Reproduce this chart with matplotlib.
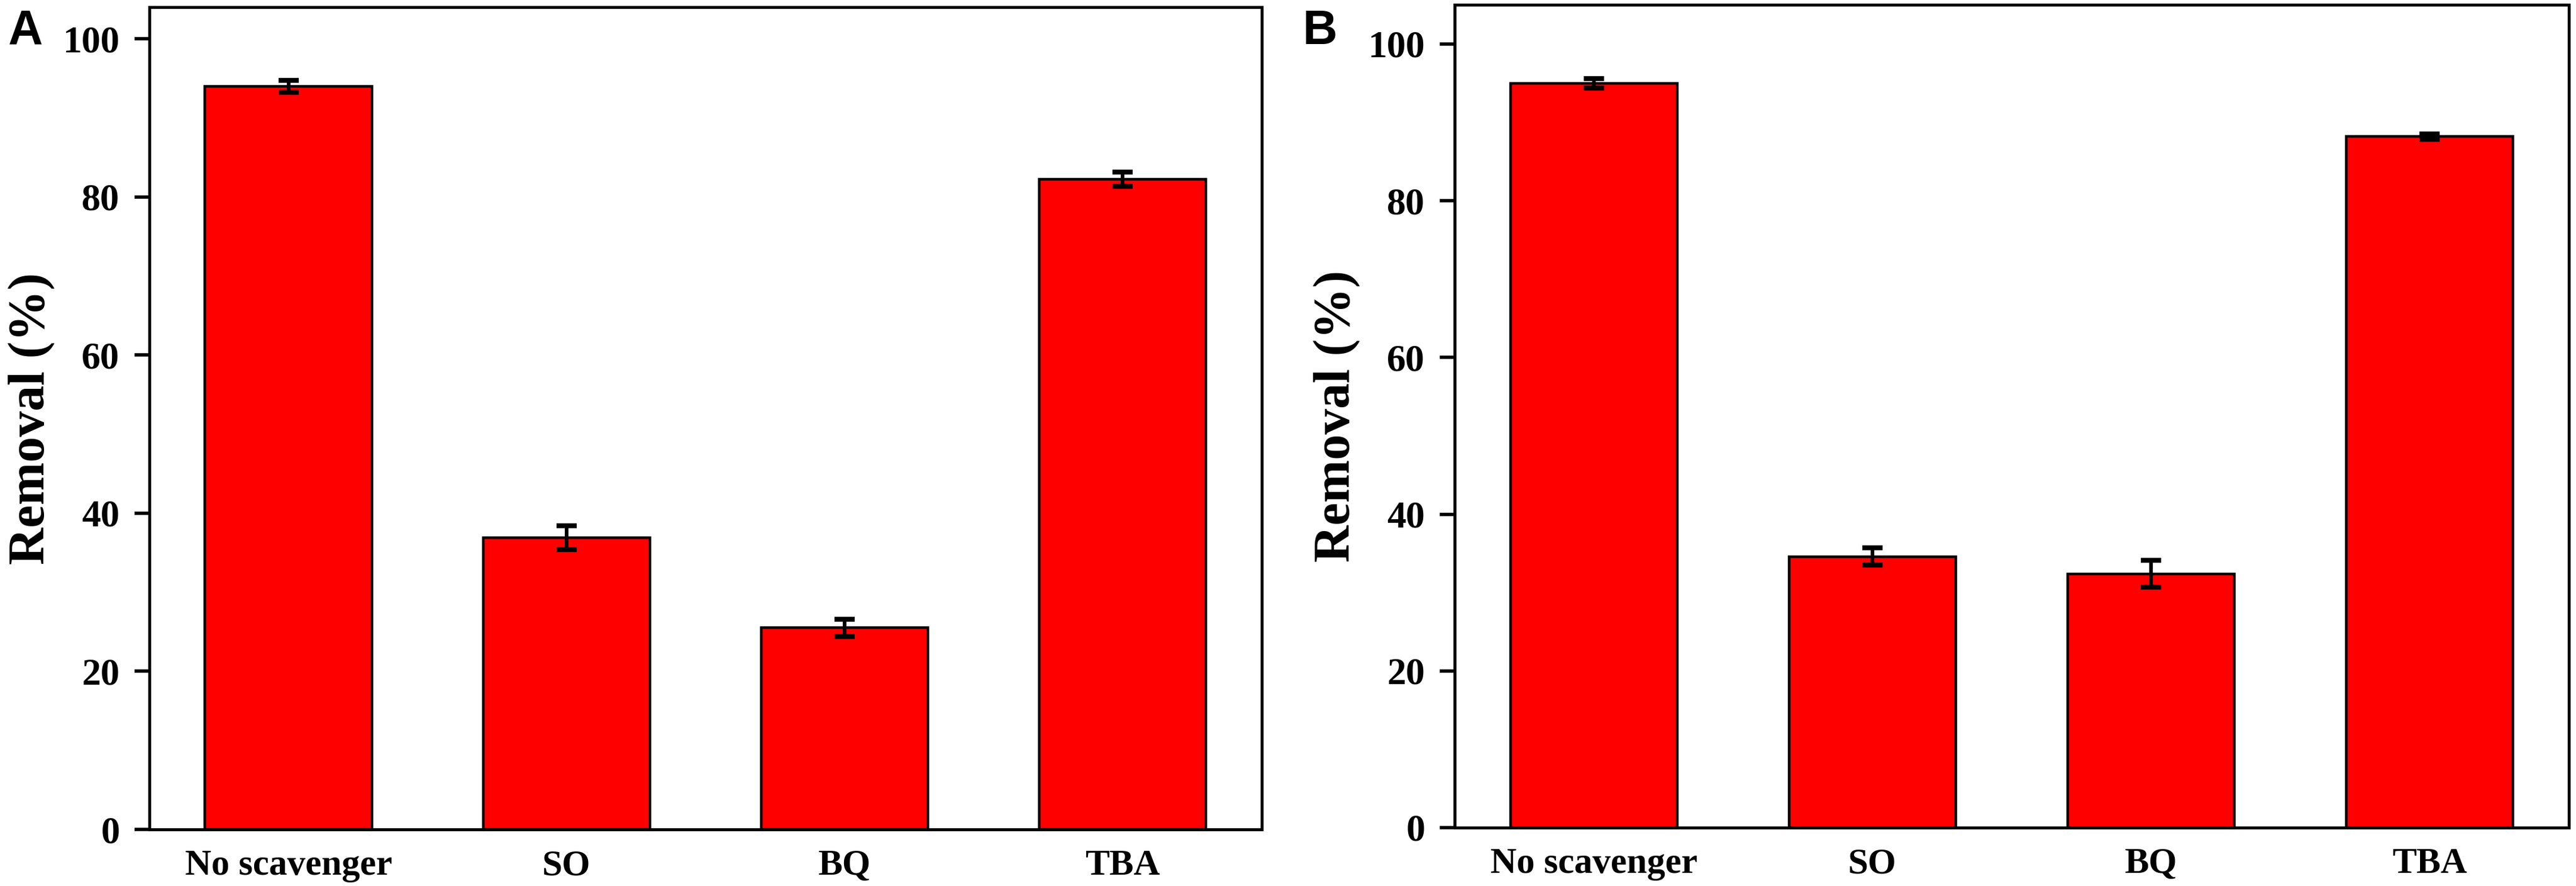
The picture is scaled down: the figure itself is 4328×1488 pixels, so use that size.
import matplotlib
matplotlib.use("Agg")
import matplotlib.pyplot as plt
import numpy as np

categories = ["No scavenger", "SO", "BQ", "TBA"]
removal_a = [94.0, 36.9, 25.5, 82.2]
error_a = [0.75, 1.5, 1.1, 0.9]
removal_b = [95.0, 34.6, 32.4, 88.2]
error_b = [0.6, 1.1, 1.7, 0.35]
yticks = [0, 20, 40, 60, 80, 100]

plt.rcParams['font.family'] = ['Liberation Serif', 'DejaVu Serif']
plt.rcParams['font.weight'] = 'bold'

fig = plt.figure(figsize=(21.64, 7.44), dpi=200)
axA = fig.add_axes([0.058, 0.0638, 0.4318, 0.9282])
axB = fig.add_axes([0.5647, 0.0659, 0.4325, 0.9287])

def draw(ax, vals, errs, ytop):
    x = np.arange(len(categories))
    ax.bar(x, vals, width=0.6, color='#FF0000', edgecolor='black', linewidth=1.6,
           yerr=errs, capsize=6,
           error_kw=dict(elinewidth=2.2, capthick=3.0, ecolor='black'), zorder=2)
    ax.set_xlim(-0.5, 3.5)
    ax.set_ylim(0, ytop)
    ax.set_xticks(x)
    ax.set_xticklabels(categories, fontsize=22, fontweight='bold')
    ax.set_yticks(yticks)
    ax.set_yticklabels([str(t) for t in yticks], fontsize=23, fontweight='bold')
    ax.tick_params(axis='x', length=0, pad=12)
    ax.tick_params(axis='y', direction='out', length=9, width=2.0, pad=9)
    for s in ax.spines.values():
        s.set_linewidth(1.8)
    ax.set_ylabel('Removal (%)', fontsize=31, fontweight='bold')
    ax.yaxis.label.set_va('center')
    ax.yaxis.set_label_coords(-0.106, 0.5)

draw(axA, removal_a, error_a, 104)
draw(axB, removal_b, error_b, 105)

fig.text(0.0032, 0.99, 'A', fontsize=29, fontweight='bold', family='Liberation Sans', va='top', ha='left')
fig.text(0.5058, 0.99, 'B', fontsize=29, fontweight='bold', family='Liberation Sans', va='top', ha='left')

fig.savefig('out.png', dpi=200)
